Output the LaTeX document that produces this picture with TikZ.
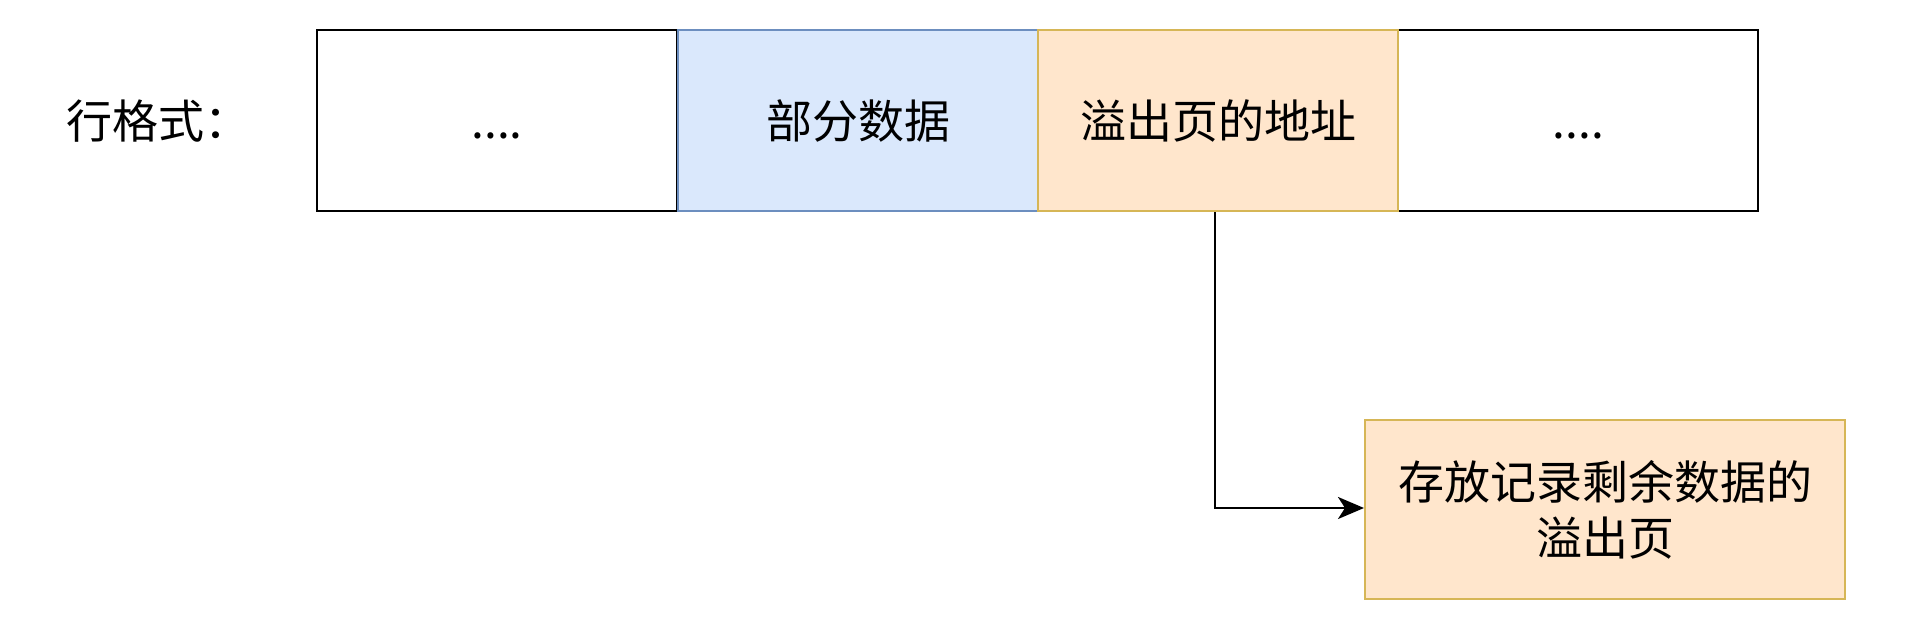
\documentclass[tikz,border=0pt]{standalone}
\usepackage{fontspec}
\setmainfont{Noto Sans CJK SC}
\usetikzlibrary{arrows.meta}
\definecolor{bluefill}{HTML}{DAE8FC}
\definecolor{bluedraw}{HTML}{6C8EBF}
\definecolor{orfill}{HTML}{FFE6CC}
\definecolor{ordraw}{HTML}{D6B656}
\begin{document}
\begin{tikzpicture}[x=1pt,y=-1pt,
  txt/.style={font=\fontsize{46}{56}\selectfont},
  cell/.style={txt,draw=black,line width=2.4pt,minimum width=360pt,minimum height=181pt,inner sep=0pt,anchor=north west},
  bluecell/.style={cell,fill=bluefill,draw=bluedraw},
  orcell/.style={cell,fill=orfill,draw=ordraw},
  conn/.style={line width=2.4pt,-{Stealth[length=26pt,width=22pt,inset=7pt]}}]
\useasboundingbox (0,0) rectangle (1915,623);
\node[txt,anchor=west,inner sep=0pt] (lbl) at (66,121) {行格式：};
\node[cell] (c1) at (316,29) {\vphantom{部}....};
\node[cell] (c4) at (1397,29) {\vphantom{部}....};
\node[bluecell] (c2) at (677,29) {部分数据};
\node[orcell] (c3) at (1037,29) {溢出页的地址};
\node[orcell,minimum width=480pt,minimum height=179pt,align=center] (ov) at (1364,419) {存放记录剩余数据的\\溢出页};
\coordinate (bend) at (1215,508);
\draw[conn] (c3.south -| bend) -- (bend) -- (bend -| ov.west);
\end{tikzpicture}
\end{document}
